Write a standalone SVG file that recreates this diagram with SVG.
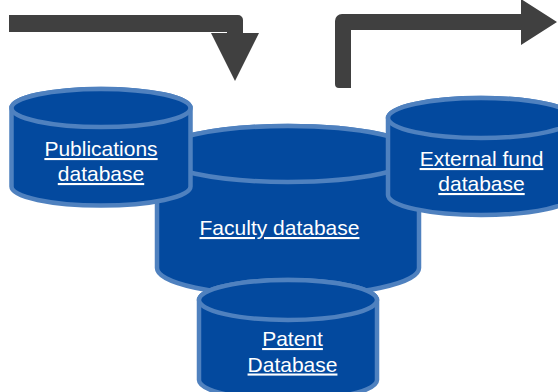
<svg xmlns="http://www.w3.org/2000/svg" width="558" height="392" viewBox="0 0 558 392">
<style>
.cyl{fill:#03499E;stroke:#4F81BF;stroke-width:4.5;stroke-linejoin:round}
.lbl{font-family:"Liberation Sans",Arial,sans-serif;font-size:21px;fill:#FFFFFF;text-anchor:middle;text-decoration:underline}
.arr{fill:#404040}
</style>
<rect width="558" height="392" fill="#FFFFFF"/>
<g id="connectors">
<path class="arr" d="M9,15 H238 A5,5 0 0 1 243,20 V33 H259 L235,81 L211,33 H227 V32 H9 Z"/>
<path class="arr" d="M335,84 V21 A7,7 0 0 1 342,14 H521 V-1 L557,22 L521,45 V30 H351 V88 H339 A4,4 0 0 1 335,84 Z"/>
</g>
<g id="faculty">
<path class="cyl" d="M157,154 V268 A131,28 0 0 0 419,268 V154 A131,28 0 0 0 157,154 Z"/>
<ellipse class="cyl" cx="288" cy="154" rx="131" ry="28"/>
<text class="lbl" x="279.5" y="235">Faculty database</text>
</g>
<g id="publications">
<path class="cyl" d="M11.5,108 V186.5 A89.5,19 0 0 0 190.5,186.5 V108 A89.5,19 0 0 0 11.5,108 Z"/>
<ellipse class="cyl" cx="101" cy="108" rx="89.5" ry="19"/>
<text class="lbl" x="101" y="156">Publications</text>
<text class="lbl" x="101" y="181">database</text>
</g>
<g id="external">
<path class="cyl" d="M388,118 V195 A93,20 0 0 0 574,195 V118 A93,20 0 0 0 388,118 Z"/>
<ellipse class="cyl" cx="481" cy="118" rx="93" ry="20"/>
<text class="lbl" x="481.5" y="166">External fund</text>
<text class="lbl" x="481.5" y="191">database</text>
</g>
<g id="patent">
<path class="cyl" d="M199,300 V380 A89,20 0 0 0 377,380 V300 A89,20 0 0 0 199,300 Z"/>
<ellipse class="cyl" cx="288" cy="300" rx="89" ry="20"/>
<text class="lbl" x="292.5" y="346">Patent</text>
<text class="lbl" x="292.5" y="371.5">Database</text>
</g>
</svg>
